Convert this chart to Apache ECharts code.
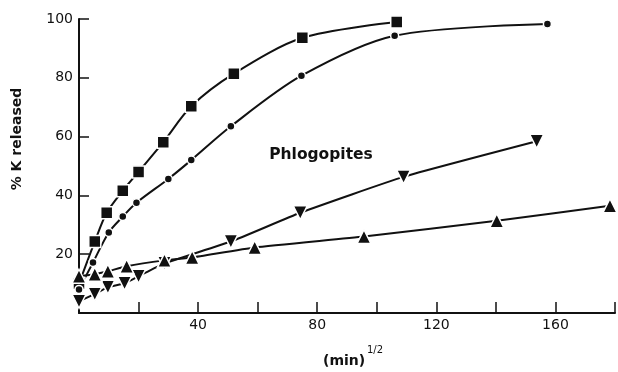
<!DOCTYPE html>
<html><head><meta charset="utf-8">
<script src="https://cdn.jsdelivr.net/npm/echarts@6/dist/echarts.min.js"></script>
<style>html,body{margin:0;padding:0;background:#fff}#c{width:618px;height:372px}</style>
</head><body><div id="c"></div>
<script>
var xTicks = [0, 20, 40, 60, 80, 100, 120, 140, 160, 180];
var xLabels = [40, 80, 120, 160];
var yLabels = [20, 40, 60, 80, 100];

var squareX = [0, 5.3, 9.3, 14.7, 20, 28.3, 37.7, 52, 75, 106.7];
var squareY = [10, 24.3, 34.1, 41.6, 48, 58.1, 70.3, 81.4, 93.6, 99];

var circleX = [0, 4.7, 10, 14.7, 19.3, 30, 37.7, 51, 74.7, 106, 157.3];
var circleY = [8, 17.2, 27.4, 32.8, 37.5, 45.6, 52, 63.5, 80.7, 94.3, 98.3];

var downX = [0, 5.3, 9.7, 15.3, 20, 28.7, 51, 74.3, 109, 153.7];
var downY = [4, 6.4, 8.8, 10.1, 12.5, 16.9, 24.3, 34.1, 46.3, 58.4];

var upX = [0, 5.3, 9.7, 16, 28.7, 38, 59, 95.7, 140.3, 178.3];
var upY = [12.5, 13.2, 14.2, 15.9, 17.9, 18.9, 22.3, 26, 31.4, 36.5];

function pairs(xs, ys) { return xs.map(function (x, i) { return [x, ys[i]]; }); }

var FONT = '"DejaVu Sans", "Liberation Sans", Arial, sans-serif';
function mk(name, xs, ys, symbol, size, rot, smooth) {
  return {
    name: name, type: 'line', data: pairs(xs, ys),
    symbol: symbol, symbolSize: size, symbolRotate: rot, smooth: smooth,
    showSymbol: true, clip: false,
    lineStyle: { color: '#111', width: 2 },
    itemStyle: { color: '#111', borderColor: '#fff', borderWidth: 1.5, opacity: 1 },
    emphasis: { disabled: true }
  };
}

var chart = echarts.init(document.getElementById('c'), null, { renderer: 'canvas' });
chart.setOption({
  backgroundColor: '#fff',
  animation: false,
  grid: { left: 79, right: 0, top: 19, bottom: 59, containLabel: false },
  xAxis: {
    type: 'value', min: 0, max: 180, interval: 20,
    axisLine: { show: true, onZero: false, lineStyle: { color: '#111', width: 2 } },
    axisTick: { show: true, inside: true, length: 11, lineStyle: { color: '#111', width: 1.5 } },
    splitLine: { show: false },
    axisLabel: {
      color: '#111', fontFamily: FONT, fontSize: 14, margin: 5,
      formatter: function (v) { return xLabels.indexOf(v) >= 0 ? String(v) : ''; }
    }
  },
  yAxis: {
    type: 'value', min: 0, max: 100, interval: 20,
    axisLine: { show: true, onZero: false, lineStyle: { color: '#111', width: 2 } },
    axisTick: { show: true, inside: true, length: 10, lineStyle: { color: '#111', width: 1.5 } },
    splitLine: { show: false },
    axisLabel: {
      color: '#111', fontFamily: FONT, fontSize: 14, margin: 6,
      formatter: function (v) { return yLabels.indexOf(v) >= 0 ? String(v) : ''; }
    }
  },
  series: [
    mk('square', squareX, squareY, 'rect', 12, 0, 0.3),
    mk('circle', circleX, circleY, 'circle', 8, 0, 0.3),
    mk('down', downX, downY, 'triangle', 14, 180, 0.15),
    mk('up', upX, upY, 'triangle', 14, 0, 0.15)
  ],
  graphic: [
    { type: 'text', x: 17, y: 139, rotation: Math.PI / 2, style: { text: '% K released', font: 'bold 14px ' + FONT, fill: '#111', textAlign: 'center', textVerticalAlign: 'middle' } },
    { type: 'text', x: 321, y: 155, style: { text: 'Phlogopites', font: 'bold 15.5px ' + FONT, fill: '#111', textAlign: 'center', textVerticalAlign: 'middle' } },
    { type: 'text', x: 323, y: 361, style: { text: '(min)', font: 'bold 14px ' + FONT, fill: '#111', textAlign: 'left', textVerticalAlign: 'middle' } },
    { type: 'text', x: 367, y: 350, style: { text: '1/2', font: '10px ' + FONT, fill: '#111', textAlign: 'left', textVerticalAlign: 'middle' } }
  ]
});
</script>
</body></html>
